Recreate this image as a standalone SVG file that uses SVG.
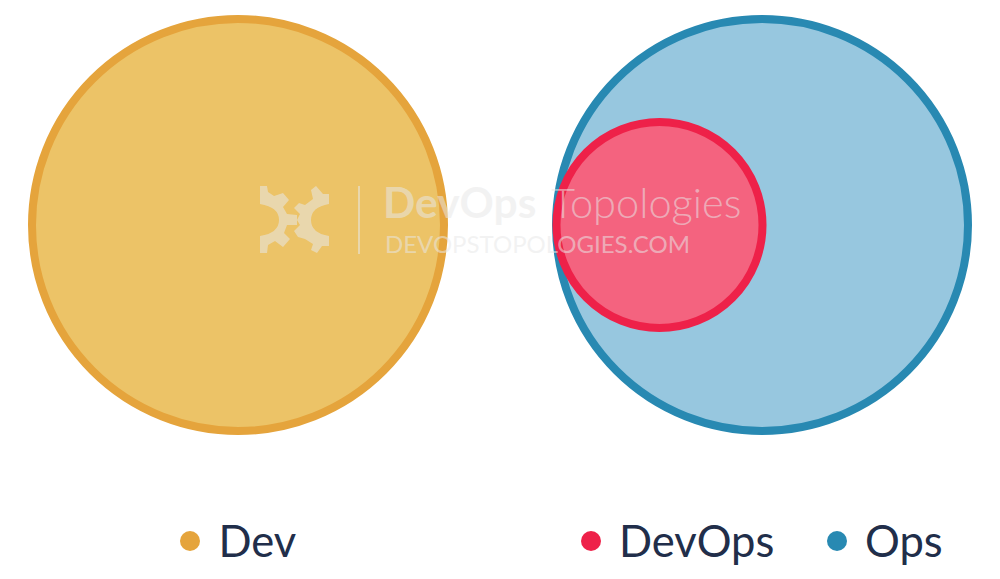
<svg xmlns="http://www.w3.org/2000/svg" width="1000" height="579" viewBox="0 0 1000 579">
<style>
text{font-family:"Lato","Carlito","Liberation Sans",sans-serif}
.leg{font-size:43.500px;fill:#212e4a}
.c{stroke-width:8}
.wm{fill:#e8e8e8;fill-opacity:.55}
</style>
<rect width="1000" height="579" fill="#fff"/>
<g id="dev"><circle class="c" cx="238" cy="225" r="206" fill="#ecc367" stroke="#e5a43c"/></g>
<g id="ops"><circle class="c" cx="762" cy="225" r="206" fill="#97c7df" stroke="#2889b2"/></g>
<g id="devops"><circle class="c" cx="659.500" cy="225" r="103" fill="#f4637f" stroke="#ee2149"/></g>
<g id="watermark">
<path class="wm" d="M260 186H267L268 192L274 196L283 193L289 200L283 207L287 214L297 215V225L287 225L284 233L290 239L283 247L275 241L268 245L267 253H260V236Q279 233 279 220Q279 207 260 204Z"/>
<path class="wm" d="M316 186L323 194L329 194V204Q311 207 311 220Q311 233 329 236V246H322L317 253L311 250L313 244L305 239L298 237L294 231L300 225L297 220L300 214L294 208L299 203L305 205L313 199L311 190Z"/>
<rect class="wm" x="358" y="186" width="2" height="68"/>
<text class="wm" x="383" y="218" font-size="42.500" font-weight="700">DevOps</text>
<text class="wm" x="551" y="218" font-size="41.600" font-weight="300">Topologies</text>
<text class="wm" x="385" y="253" font-size="24" font-weight="400">DEVOPSTOPOLOGIES.COM</text>
</g>
<g id="legend">
<circle cx="190" cy="541" r="10" fill="#e5a43c"/>
<text class="leg" x="218.500" y="557">Dev</text>
<circle cx="591" cy="541" r="10" fill="#ee2149"/>
<text class="leg" x="619" y="557">DevOps</text>
<circle cx="837" cy="541" r="10" fill="#2889b2"/>
<text class="leg" x="865" y="557">Ops</text>
</g>
<g id="connectors"/>
</svg>
